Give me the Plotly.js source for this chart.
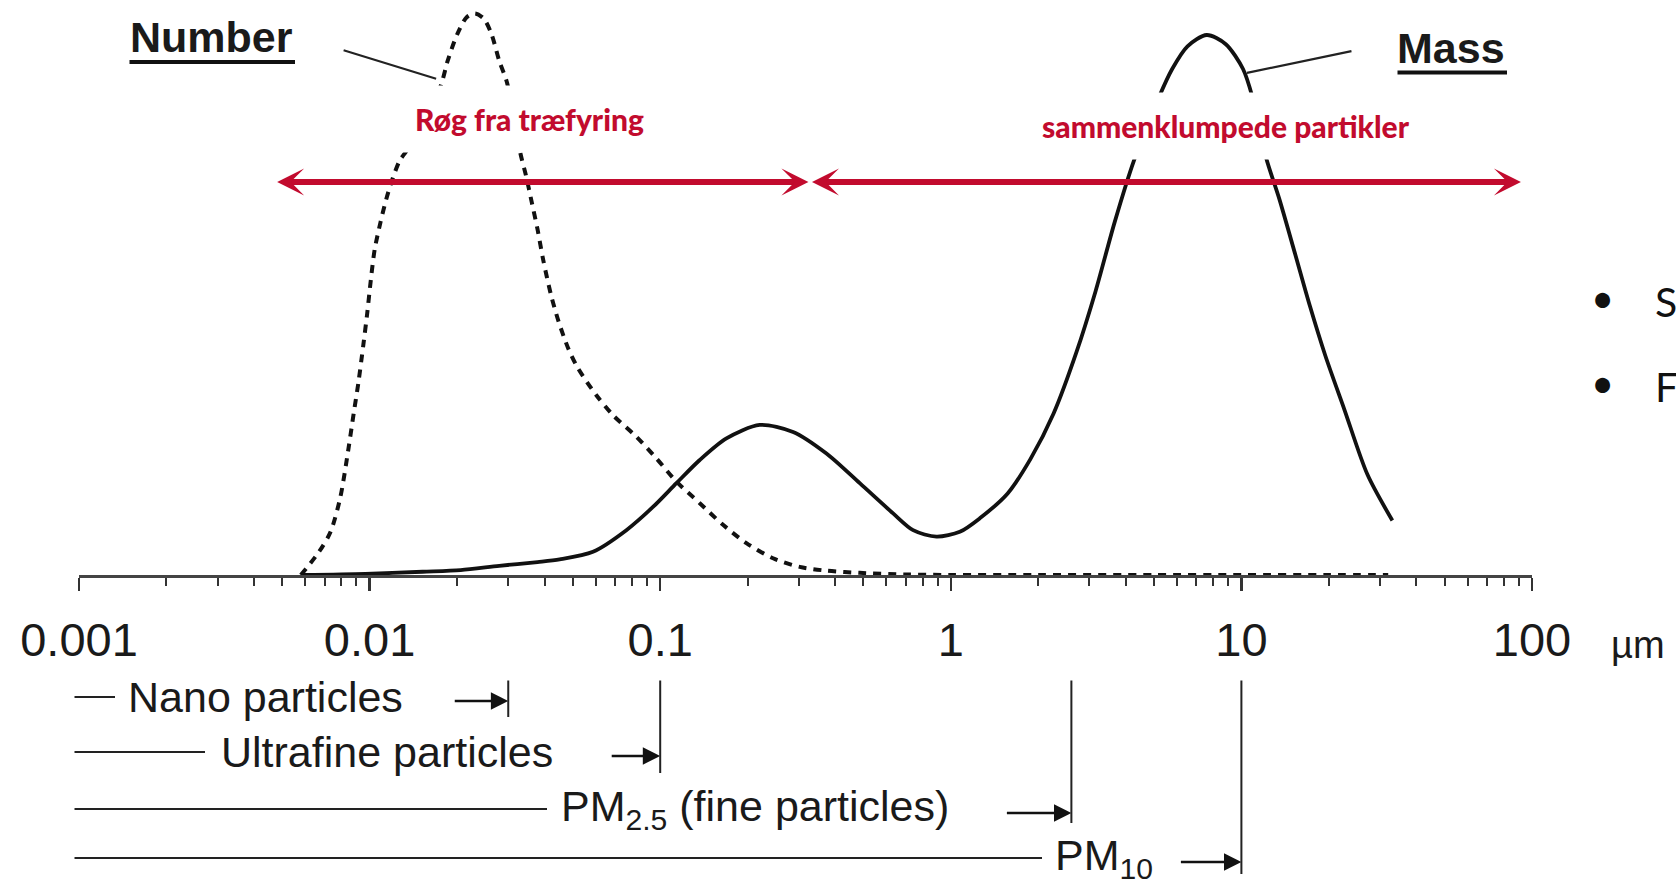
<!DOCTYPE html>
<html>
<head>
<meta charset="utf-8">
<script src="https://cdn.plot.ly/plotly-3.0.1.min.js"></script>
<style>html,body{margin:0;padding:0;background:#fff;}#chart{width:1676px;height:879px;}</style>
</head>
<body>
<div id="chart"></div>
<script>
// ---------- data ----------
// particle diameter in µm, relative distribution height (mass peak = 100)
const numberSize = [0.0058, 0.00672, 0.00734, 0.00793, 0.00843, 0.00882, 0.00915, 0.00952, 0.00981, 0.0101, 0.01042, 0.01091, 0.01141, 0.01195, 0.01268, 0.01349, 0.01746, 0.01856, 0.02001, 0.02158, 0.02307, 0.02474, 0.0263, 0.02793, 0.0297, 0.03303, 0.03455, 0.03618, 0.03784, 0.03959, 0.04208, 0.04473, 0.04823, 0.05212, 0.06031, 0.06879, 0.08283, 0.09703, 0.1137, 0.1368, 0.1645, 0.198, 0.2445, 0.3021, 0.3734, 0.4861, 0.7, 1.0, 2, 5, 10, 20, 32];
const numberValue = [0, 4.4, 8.0, 14.4, 22.9, 30.0, 35.6, 42.7, 48.4, 54.7, 60.4, 65.4, 69.6, 73.1, 76.7, 78.8, 90.2, 95.2, 100.1, 103.3, 104.0, 103.0, 100.1, 95.2, 91.2, 78.1, 73.9, 68.9, 64.0, 58.3, 51.9, 46.9, 42.0, 38.3, 33.3, 29.6, 25.6, 21.6, 17.3, 13.3, 9.3, 5.9, 3.1, 1.5, 0.8, 0.4, 0.1, 0, 0, 0, 0, 0, 0];

const massSize = [0.0059, 0.00967, 0.01522, 0.02057, 0.02793, 0.03784, 0.04508, 0.05871, 0.07648, 0.09445, 0.1137, 0.1368, 0.169, 0.2201, 0.2866, 0.3734, 0.4861, 0.6332, 0.7416, 0.8929, 1.074, 1.258, 1.569, 1.881, 2.258, 2.708, 3.151, 3.666, 4.265, 5.195, 5.778, 6.523, 7.596, 8.838, 10.13, 10.93, 12.14, 13.51, 15.26, 17.21, 19.45, 22.63, 27.15, 33.07];
const massValue = [0, 0.2, 0.6, 0.9, 1.7, 2.4, 2.9, 4.3, 8.3, 12.6, 17.0, 21.3, 25.3, 27.8, 26.5, 22.5, 17.0, 11.4, 8.3, 7.1, 8.0, 10.5, 15.1, 21.5, 29.9, 41.3, 52.6, 65.4, 76.7, 88.4, 93.7, 97.9, 100, 98.3, 93.7, 88.4, 77.4, 69.6, 59.7, 49.8, 40.6, 30.6, 18.6, 10.1];

const tickValues = [0.001, 0.01, 0.1, 1, 10, 100];
const tickLabels = ['0.001', '0.01', '0.1', '1', '10', '100'];
const axisUnit = 'µm';

// size classes: upper boundary (µm) and label
const classUpper = [0.03, 0.1, 2.6, 10];
const classLabels = ['Nano particles', 'Ultrafine particles', 'PM<sub>2.5</sub> (fine particles)', 'PM<sub>10</sub>'];

// red ranges (µm) and their labels
const smokeRange = [0.00475, 0.3237];
const clumpRange = [0.329, 91.6];
const rangeLevel = 72.8;
const smokeLabel = 'Røg fra træfyring';
const clumpLabel = 'sammenklumpede partikler';

// leader points on the curves
const numberLeader = [0.01694, 91.9];
const massLeader = [10.45, 93.0];

const bulletLetters = ['S', 'F'];

// ---------- layout helpers (pixel layout only) ----------
const L = 79, PW = 1453, PH = 575, UNIT = 5.4;
const px = v => (v - L) / PW;
const py = v => (PH - v) / PH;
const lg = Math.log10;
const RED = '#C20B2E';
const INK = '#1a1a1a';
const ARIAL = 'Liberation Sans, Arial, sans-serif';
const CAL = 'Lato, Open Sans, sans-serif';

const traces = [
  {x: massSize, y: massValue, type: 'scatter', mode: 'lines', name: 'Mass',
   line: {color: '#111', width: 3.8, shape: 'spline', smoothing: 0.8}, cliponaxis: false, hoverinfo: 'skip'},
  {x: numberSize, y: numberValue, type: 'scatter', mode: 'lines', name: 'Number',
   line: {color: '#111', width: 4, dash: '8px,7px', shape: 'spline', smoothing: 0.8}, cliponaxis: false, hoverinfo: 'skip'}
];

const ann = [];

// red double arrows
[smokeRange, clumpRange].forEach(r => {
  ann.push({xref: 'x', yref: 'y', axref: 'x', ayref: 'y', x: lg(r[1]), y: rangeLevel, ax: lg(r[0]), ay: rangeLevel,
    text: '', showarrow: true, arrowside: 'end+start', arrowhead: 3, startarrowhead: 3,
    arrowsize: 0.75, startarrowsize: 0.75, arrowwidth: 6, arrowcolor: RED});
});

// red labels with white background (hide curves behind)
ann.push({xref: 'paper', yref: 'paper', x: px(529), y: py(119), text: smokeLabel, showarrow: false,
  font: {family: CAL, size: 30, color: RED, weight: 900}, bgcolor: '#fff', borderpad: 15, xanchor: 'center', yanchor: 'middle'});
ann.push({xref: 'paper', yref: 'paper', x: px(1226), y: py(126), text: clumpLabel, showarrow: false,
  font: {family: CAL, size: 30, color: RED, weight: 900}, bgcolor: '#fff', borderpad: 15, xanchor: 'center', yanchor: 'middle'});

// Number / Mass labels, underlines and leader lines
ann.push({xref: 'paper', yref: 'paper', x: px(211), y: py(37), text: '<b>Number</b>', showarrow: false,
  font: {family: ARIAL, size: 43, color: INK}, xanchor: 'center', yanchor: 'middle'});
ann.push({xref: 'paper', yref: 'paper', x: px(1451), y: py(48), text: '<b>Mass</b>', showarrow: false,
  font: {family: ARIAL, size: 43, color: INK}, xanchor: 'center', yanchor: 'middle'});
ann.push({xref: 'paper', yref: 'paper', x: px(295), y: py(62), ax: -167, ay: 0, text: '',
  showarrow: true, arrowhead: 0, arrowwidth: 4, arrowcolor: '#111'});
ann.push({xref: 'paper', yref: 'paper', x: px(1507), y: py(72.5), ax: -111, ay: 0, text: '',
  showarrow: true, arrowhead: 0, arrowwidth: 4, arrowcolor: '#111'});
ann.push({xref: 'x', yref: 'y', x: lg(numberLeader[0]), y: numberLeader[1], ax: -94, ay: -29, text: '',
  showarrow: true, arrowhead: 0, arrowwidth: 2.2, arrowcolor: '#222'});
ann.push({xref: 'x', yref: 'y', x: lg(massLeader[0]), y: massLeader[1], ax: 106, ay: -22, text: '',
  showarrow: true, arrowhead: 0, arrowwidth: 2.2, arrowcolor: '#222'});

// axis unit
ann.push({xref: 'paper', yref: 'paper', x: px(1638), y: py(645), text: axisUnit, showarrow: false,
  font: {family: ARIAL, size: 38, color: INK}, xanchor: 'center', yanchor: 'middle'});

// size class rows below the axis
const rowY = [697, 752, 809, 858];
const lineEnd = [115, 205, 547, 1042];
const textLeft = [126, 219, 559, 1053];
const arrowLen = [55, 50, 66, 62];
const barTop = 679;
const barBottom = [717, 773, 823, 874];
classUpper.forEach((b, i) => {
  ann.push({xref: 'paper', yref: 'paper', x: px(lineEnd[i]), y: py(rowY[i]), ax: -(lineEnd[i] - 73), ay: 0,
    text: '', showarrow: true, arrowhead: 0, arrowwidth: 2.2, arrowcolor: '#222'});
  ann.push({xref: 'paper', yref: 'paper', x: px(textLeft[i]), y: py(rowY[i]), text: classLabels[i], showarrow: false,
    font: {family: ARIAL, size: 43, color: INK}, xanchor: 'left', yanchor: 'middle'});
  ann.push({xref: 'x', yref: 'paper', x: lg(b), y: py(rowY[i] + 4), ax: -arrowLen[i], ay: 0, text: '',
    showarrow: true, arrowhead: 2, arrowsize: 1.45, arrowwidth: 2.4, arrowcolor: '#111'});
  ann.push({xref: 'x', yref: 'paper', x: lg(b), y: py(barBottom[i]), ax: 0, ay: -(barBottom[i] - barTop), text: '',
    showarrow: true, arrowhead: 0, arrowwidth: 2, arrowcolor: '#222'});
});

// bullets on the right edge
[298, 383].forEach((yy, i) => {
  ann.push({xref: 'paper', yref: 'paper', x: px(1602), y: py(yy), text: '•', showarrow: false,
    font: {family: CAL, size: 40, color: '#111'}, xanchor: 'center', yanchor: 'middle'});
  ann.push({xref: 'paper', yref: 'paper', x: px(1653), y: py(yy + 3), text: bulletLetters[i], showarrow: false,
    font: {family: CAL, size: 41, color: '#111'}, xanchor: 'left', yanchor: 'middle'});
});

const layout = {
  width: 1676, height: 879,
  margin: {l: L, r: 1676 - L - PW, t: 0, b: 879 - PH, pad: 0},
  paper_bgcolor: '#fff', plot_bgcolor: '#fff',
  showlegend: false,
  xaxis: {type: 'log', range: [-3, 2], showgrid: false, zeroline: false,
    showline: true, linecolor: '#444', linewidth: 3,
    tickmode: 'array', tickvals: tickValues, ticktext: tickLabels,
    ticks: 'outside', ticklen: 13, tickwidth: 2.5, tickcolor: '#333',
    minor: {ticks: 'outside', ticklen: 8, tickwidth: 2, tickcolor: '#333', dtick: 'D1', showgrid: false},
    tickfont: {family: ARIAL, size: 47, color: INK}, ticklabelstandoff: 9, fixedrange: true},
  yaxis: {range: [0, PH / UNIT], visible: false, fixedrange: true},
  annotations: ann
};

Plotly.newPlot('chart', traces, layout, {staticPlot: true, displayModeBar: false});
</script>
</body>
</html>
